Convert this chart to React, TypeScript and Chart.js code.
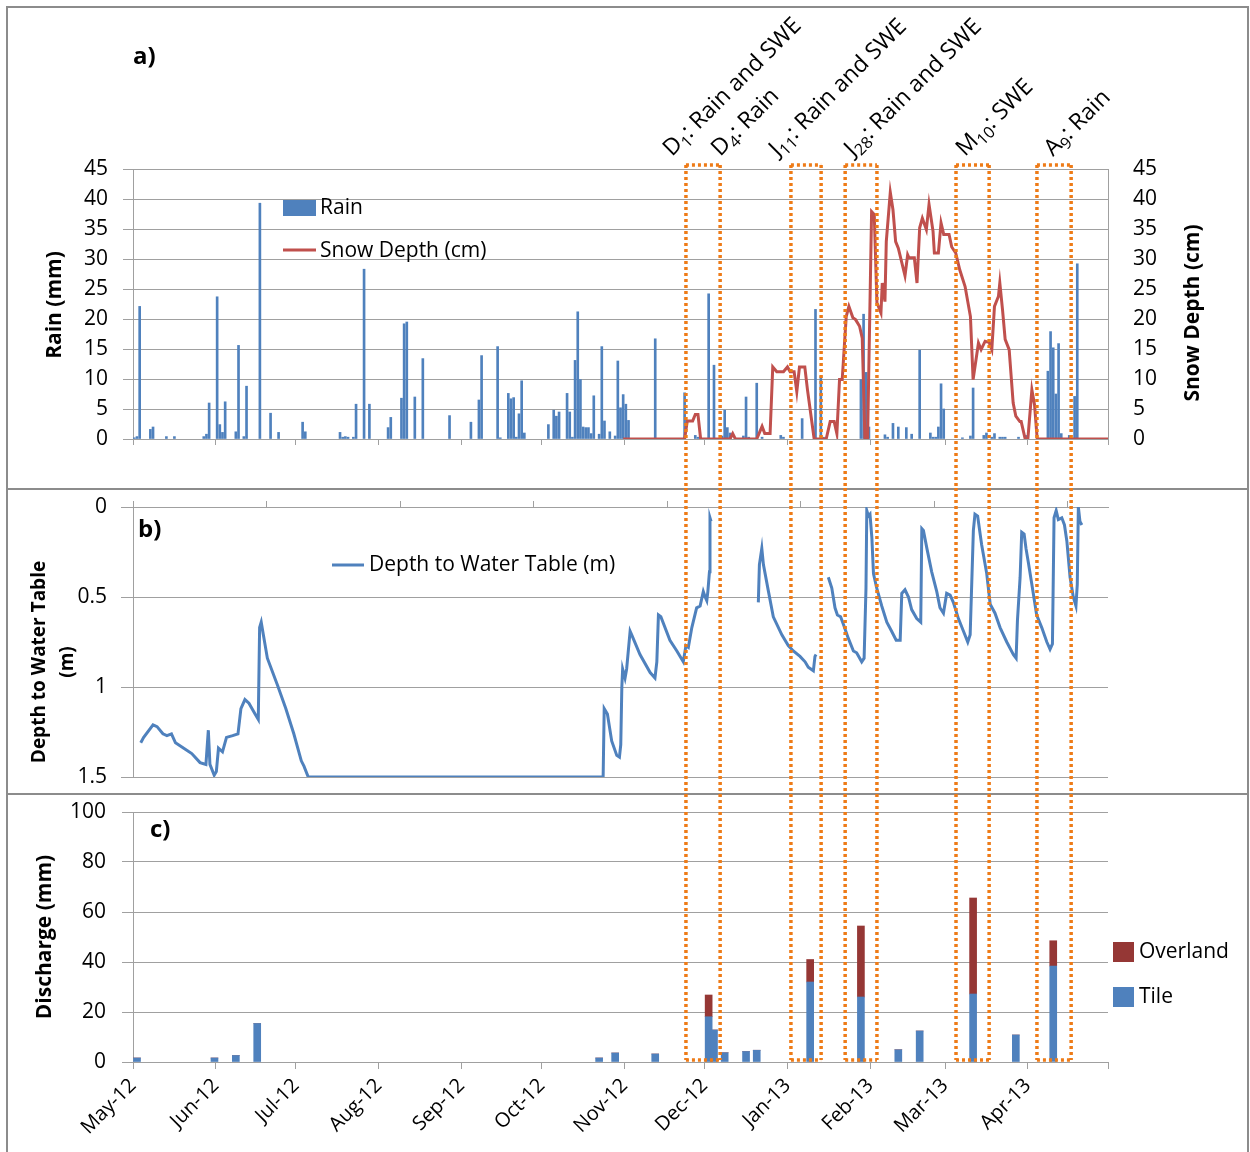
import React, { useEffect, useRef } from 'react';
import { Chart, registerables } from 'chart.js';
Chart.register(...registerables);

const FONT = "'Open Sans', sans-serif";
const BLUE = '#4F81BD';
const RED = '#C0504D';
const DARKRED = '#953735';
const ORANGE = '#EE7B17';
const GRID = '#a0a0a0';

// Days since 1 May 2012
const monthTickDays = [0, 31, 61, 92, 123, 153, 184, 214, 245, 276, 304, 335, 365];
const monthLabels = ['May-12', 'Jun-12', 'Jul-12', 'Aug-12', 'Sep-12', 'Oct-12', 'Nov-12', 'Dec-12', 'Jan-13', 'Feb-13', 'Mar-13', 'Apr-13', ''];
const wtTickDays = [0, 50, 100, 150, 200, 250, 300, 350];

// a) daily rain (mm)
const rainDays = [0,1,2,6,7,12,15,26,27,28,31,32,33,34,38,39,41,42,47,51,54,63,64,77,78,79,80,82,83,86,88,95,96,100,101,102,105,108,118,126,129,130,136,137,140,141,142,143,144,145,146,155,157,158,159,162,163,164,165,166,167,168,169,170,171,172,174,175,176,178,180,181,182,183,184,185,195,206,210,211,215,217,220,221,222,223,228,229,230,233,235,242,243,250,255,257,258,272,273,274,275,281,282,284,286,289,291,294,298,299,300,301,302,303,310,313,314,318,319,321,322,324,325,326,331,334,342,343,344,345,346,347,350,352,353];
const rainMm = [0.2,0.4,22.1,1.6,2.0,0.4,0.4,0.4,0.8,6.0,23.7,2.4,1.1,6.2,1.2,15.6,0.4,8.8,39.3,4.3,1.1,2.8,1.2,1.1,0.3,0.4,0.3,0.3,5.8,28.3,5.8,1.9,3.6,6.8,19.2,19.5,7.0,13.4,3.9,2.8,6.5,13.9,15.4,0.2,7.6,6.7,6.9,0.3,4.2,9.7,1.0,2.4,4.8,3.8,4.5,7.6,4.5,0.3,13.1,21.2,9.9,2.0,1.9,1.9,0.9,7.2,0.8,15.4,3.0,1.2,0.5,13.0,5.2,7.4,5.8,3.1,16.7,7.7,0.6,0.3,24.2,12.3,0.5,4.8,1.9,1.0,0.5,7.0,0.3,9.3,0.3,0.6,0.3,3.4,21.6,10.4,0.3,9.9,20.8,11.1,2.0,0.7,0.3,2.6,2.0,1.9,0.8,14.8,1.0,0.3,0.3,2.0,9.2,5.0,0.2,0.5,8.5,0.6,1.0,0.3,0.9,0.3,0.3,0.3,0.3,0.6,11.3,17.9,15.2,7.5,15.9,0.9,0.6,7.1,29.2];

// a) snow depth (cm)
const snowDays = [183.5,206.5,207.5,209.5,210.5,211.5,212.5,223.5,224.5,225.5,233.5,235.5,236.5,238.5,239.5,241,243.5,245,246,247.5,248.5,249.5,251.5,252.5,255,259.5,261,262.5,263.5,264.5,265.5,267,268,269.5,270.5,272,273,274,275,276.5,277.5,278.5,280,280.5,281.5,282,283.5,284.5,285.5,286.5,289,290,290.5,292.5,293.5,294.5,295.5,297,298,299.5,300,301.5,302.5,303.5,305.5,306.5,308,309.5,311.5,313.5,314.5,316.5,317.5,319,320.5,321.5,322.5,324,324.5,325.5,326.5,328,329.5,330.5,332,332.5,334,335,336.5,337.5,338.5,365];
const snowCm = [0,0,3.0,3.0,4.1,4.1,0,0,0.9,0,0,2.1,0.9,0.9,12.0,11.2,11.2,12.0,11.2,11.2,7.9,12.0,12.0,8.2,0,0,2.9,2.9,0.9,9.9,9.9,20.4,22.1,20.2,19.9,18.8,16.8,0,0,37.9,37.4,22.7,21.0,26.0,22.9,32.9,41.1,38.2,32.9,31.8,27.2,30.7,30.2,30.2,26.0,35.2,36.8,34.9,39.1,34.6,31.0,31.0,36.0,34.1,34.1,32.0,31.0,28.2,25.4,20.4,9.9,16.0,14.9,16.3,16.1,14.9,22.1,23.8,26.0,21.6,16.6,14.9,6.0,3.8,2.9,2.9,0,0,8.2,5.7,0,0];

// b) depth to water table (m); null = gap in record
const wtDays = [2.9,4.0,7.5,9.0,11.2,12.7,14.4,15.9,19.0,22.0,25.1,27.3,28.2,28.8,30.4,31.2,32.0,33.5,35.0,37.3,39.3,40.4,41.9,43.4,45.7,46.9,47.4,48.0,48.8,50.3,54.1,57.2,60.2,63.0,64.0,65.6,
  176.0,176.4,177.6,179.2,181.1,182.1,182.6,183.0,183.3,184.2,184.8,186.1,186.7,189.8,193.6,195.4,196.1,196.7,197.6,201.0,203.6,206.0,207.0,207.9,209.2,211.0,212.3,213.5,214.2,214.8,215.2,215.8,216.0,216.4,
  225,
  234.1,234.5,235.4,236.0,237.9,239.7,242.9,245.3,247.2,249.7,251.6,252.8,254.7,255.3,255.7,
  258,
  260.3,261.6,262.8,263.7,264.9,265.9,267.8,269.7,270.9,272.8,273.7,274.4,274.7,275.3,275.9,276.6,277.2,278.4,280.3,282.2,284.0,285.7,287.2,287.8,289.0,290.3,291.5,293.4,294.9,295.3,295.9,297.2,299.0,300.9,302.1,303.4,304.6,305.9,307.1,309.0,310.9,312.5,313.4,314.6,315.2,316.2,317.7,319.6,320.9,322.7,324.6,327.1,329.6,330.6,331.1,332.1,332.7,333.6,334.3,335.2,336.5,338.3,340.2,342.1,343.3,344.2,344.8,345.6,346.4,347.7,348.7,349.6,350.8,352.0,353.0,353.5,353.9,354.5,355.2];
const wtDepth = [1.31,1.28,1.21,1.22,1.26,1.27,1.26,1.31,1.34,1.37,1.42,1.43,1.24,1.43,1.49,1.47,1.34,1.36,1.28,1.27,1.26,1.12,1.07,1.09,1.15,1.18,0.67,0.64,0.71,0.84,0.99,1.12,1.26,1.41,1.44,1.50,
  1.50,1.12,1.15,1.30,1.38,1.39,1.32,1.00,0.90,0.95,0.90,0.69,0.71,0.82,0.92,0.95,0.86,0.60,0.61,0.74,0.80,0.86,0.77,0.78,0.67,0.56,0.55,0.47,0.50,0.52,0.47,0.36,0.06,0.08,
  null,
  0.53,0.32,0.23,0.32,0.47,0.61,0.71,0.77,0.80,0.83,0.86,0.89,0.91,0.83,0.82,
  null,
  0.39,0.45,0.56,0.60,0.61,0.65,0.73,0.80,0.81,0.86,0.84,0.45,0.02,0.05,0.04,0.17,0.37,0.45,0.55,0.64,0.69,0.74,0.74,0.48,0.46,0.50,0.57,0.62,0.64,0.12,0.13,0.23,0.36,0.47,0.56,0.59,0.48,0.49,0.53,0.62,0.69,0.75,0.71,0.13,0.04,0.05,0.21,0.37,0.54,0.59,0.67,0.75,0.82,0.84,0.63,0.39,0.14,0.15,0.23,0.31,0.43,0.60,0.67,0.75,0.79,0.76,0.06,0.02,0.07,0.06,0.10,0.19,0.39,0.50,0.55,0.43,0.00,0.08,0.10];

// c) discharge (mm)
const dischargeDays = [1,30,38,46,174,180,195,215,217,221,229,233,253,272,286,294,314,330,344];
const tileMm = [1.6,1.6,2.6,15.4,1.6,3.6,3.2,18.1,12.8,3.7,4.2,4.7,32.0,26.0,4.9,12.4,27.2,10.8,38.4];
const overlandMm = [0,0,0,0,0,0,0,8.7,0,0,0,0,9.0,28.4,0,0,38.4,0,10.1];

// Event windows (days) and labels
const eventStartDays = [207.0, 246.3, 266.6, 308.1, 338.4];
const eventEndDays = [219.8, 257.6, 278.5, 320.5, 351.2];
const eventLabelMain = ['D', 'D', 'J', 'J', 'M', 'A'];
const eventLabelSub = ['1', '4', '11', '28', '10', '9'];
const eventLabelRest = [': Rain and SWE', ': Rain', ': Rain and SWE', ': Rain and SWE', ': SWE', ': Rain'];
const eventLabelDays = [201.8, 219.8, 241.5, 269.6, 311.5, 344.4];

Chart.defaults.font.family = FONT;
Chart.defaults.color = '#000';

function drawEventBoxes(ctx: CanvasRenderingContext2D, xs: any, top: number, bottom: number, drawTop: boolean, drawBottom: boolean) {
  ctx.save();
  ctx.strokeStyle = ORANGE;
  ctx.lineWidth = 3.5;
  ctx.setLineDash([3, 3]);
  eventStartDays.forEach((s, i) => {
    const x1 = xs.getPixelForValue(s);
    const x2 = xs.getPixelForValue(eventEndDays[i]);
    ctx.beginPath();
    ctx.moveTo(x1, top); ctx.lineTo(x1, bottom);
    ctx.moveTo(x2, top); ctx.lineTo(x2, bottom);
    if (drawTop) { ctx.moveTo(x1, top); ctx.lineTo(x2, top); }
    if (drawBottom) { ctx.moveTo(x1, bottom); ctx.lineTo(x2, bottom); }
    ctx.stroke();
  });
  ctx.restore();
}

function text(ctx: CanvasRenderingContext2D, s: string, x: number, y: number, font: string, align: CanvasTextAlign = 'left') {
  ctx.save();
  ctx.font = font;
  ctx.fillStyle = '#000';
  ctx.textAlign = align;
  ctx.textBaseline = 'middle';
  ctx.fillText(s, x, y);
  ctx.restore();
}

function vText(ctx: CanvasRenderingContext2D, s: string, x: number, y: number, font: string) {
  ctx.save();
  ctx.translate(x, y);
  ctx.rotate(-Math.PI / 2);
  ctx.font = font;
  ctx.fillStyle = '#000';
  ctx.textAlign = 'center';
  ctx.textBaseline = 'middle';
  ctx.fillText(s, 0, 0);
  ctx.restore();
}

const fixWidth = (w: number) => (s: any) => { s.width = w; s.paddingTop = 0; s.paddingBottom = 0; };
const fixHeight = (h: number) => (s: any) => { s.height = h; s.paddingLeft = 0; s.paddingRight = 0; };
const setTicks = (vals: number[]) => (s: any) => { s.ticks = vals.map((v) => ({ value: v })); };

function configA(): any {
  const plugin = {
    id: 'decorA',
    afterDatasetsDraw(chart: any) {
      drawEventBoxes(chart.ctx, chart.scales.x, chart.chartArea.top - 4, chart.height, true, false);
    },
    afterDraw(chart: any) {
      const ctx: CanvasRenderingContext2D = chart.ctx;
      const xs = chart.scales.x;
      const top = chart.chartArea.top;
      text(ctx, 'a)', 133, 57, `bold 24px ${FONT}`);
      // legend
      ctx.save();
      ctx.fillStyle = BLUE;
      ctx.fillRect(283, 200, 33, 16);
      ctx.strokeStyle = RED;
      ctx.lineWidth = 3;
      ctx.beginPath(); ctx.moveTo(283, 250); ctx.lineTo(316, 250); ctx.stroke();
      ctx.restore();
      text(ctx, 'Rain', 320, 208, `21px ${FONT}`);
      text(ctx, 'Snow Depth (cm)', 320, 251, `21px ${FONT}`);
      vText(ctx, 'Rain (mm)', 55, 305, `bold 21px ${FONT}`);
      vText(ctx, 'Snow Depth (cm)', 1193, 313, `bold 21px ${FONT}`);
      // event annotations
      eventLabelDays.forEach((d, i) => {
        const x = xs.getPixelForValue(d);
        const y = top - 12;
        ctx.save();
        ctx.translate(x, y);
        ctx.rotate(-Math.PI / 4);
        ctx.fillStyle = '#000';
        ctx.textBaseline = 'alphabetic';
        ctx.textAlign = 'left';
        ctx.font = `23px ${FONT}`;
        ctx.fillText(eventLabelMain[i], 0, 0);
        let w = ctx.measureText(eventLabelMain[i]).width;
        ctx.font = `16px ${FONT}`;
        ctx.fillText(eventLabelSub[i], w, 5);
        w += ctx.measureText(eventLabelSub[i]).width;
        ctx.font = `23px ${FONT}`;
        ctx.fillText(eventLabelRest[i], w, 0);
        ctx.restore();
      });
    },
  };
  return {
    type: 'bar',
    data: {
      datasets: [
        {
          type: 'line',
          label: 'Snow Depth (cm)',
          data: snowDays.map((d, i) => ({ x: d, y: snowCm[i] })),
          borderColor: RED,
          borderWidth: 3,
          pointRadius: 0,
          yAxisID: 'y2',
          order: 1,
        },
        {
          type: 'bar',
          label: 'Rain',
          data: rainDays.map((d, i) => ({ x: d + 0.5, y: rainMm[i] })),
          backgroundColor: BLUE,
          barThickness: 2,
          yAxisID: 'y',
          order: 2,
        },
      ],
    },
    options: {
      animation: false,
      responsive: false,
      events: [],
      layout: { padding: { top: 169, left: 0, right: 0, bottom: 0 } },
      plugins: { legend: { display: false }, tooltip: { enabled: false } },
      scales: {
        x: {
          type: 'linear', min: 0, max: 365, offset: false, position: 'bottom',
          afterBuildTicks: setTicks(monthTickDays),
          ticks: { display: false },
          grid: { drawOnChartArea: false, tickLength: 6, color: GRID, offset: false },
          border: { color: GRID },
          afterFit: fixHeight(49),
        },
        y: {
          position: 'left', min: 0, max: 45,
          ticks: { stepSize: 5, padding: 15, font: { size: 21 }, color: '#000' },
          grid: { color: GRID, tickLength: 10 },
          border: { color: GRID },
          afterFit: fixWidth(133),
        },
        y2: {
          position: 'right', min: 0, max: 45,
          ticks: { stepSize: 5, padding: 25, font: { size: 21 }, color: '#000' },
          grid: { display: false, drawTicks: false },
          border: { color: GRID },
          afterFit: fixWidth(142),
        },
      },
    },
    plugins: [plugin],
  };
}

function configB(): any {
  const plugin = {
    id: 'decorB',
    afterDatasetsDraw(chart: any) {
      drawEventBoxes(chart.ctx, chart.scales.x, 0, chart.height, false, false);
    },
    afterDraw(chart: any) {
      const ctx: CanvasRenderingContext2D = chart.ctx;
      text(ctx, 'b)', 138, 42, `bold 24px ${FONT}`);
      ctx.save();
      ctx.strokeStyle = BLUE;
      ctx.lineWidth = 3;
      ctx.beginPath(); ctx.moveTo(332, 77); ctx.lineTo(364, 77); ctx.stroke();
      ctx.restore();
      text(ctx, 'Depth to Water Table (m)', 369, 77, `21px ${FONT}`);
      vText(ctx, 'Depth to Water Table', 40, 174, `bold 19px ${FONT}`);
      vText(ctx, '(m)', 68, 174, `bold 19px ${FONT}`);
    },
  };
  return {
    type: 'line',
    data: {
      datasets: [
        {
          label: 'Depth to Water Table (m)',
          data: wtDays.map((d, i) => ({ x: d, y: wtDepth[i] })),
          borderColor: BLUE,
          borderWidth: 3,
          pointRadius: 0,
          spanGaps: false,
        },
      ],
    },
    options: {
      animation: false,
      responsive: false,
      events: [],
      layout: { padding: { top: 0, left: 0, right: 142, bottom: 17 } },
      plugins: { legend: { display: false }, tooltip: { enabled: false } },
      scales: {
        x: {
          type: 'linear', min: 0, max: 365, position: 'top',
          afterBuildTicks: setTicks(wtTickDays),
          ticks: { display: false },
          grid: { drawOnChartArea: false, tickLength: 6, color: GRID },
          border: { color: GRID },
          afterFit: fixHeight(19),
        },
        y: {
          position: 'left', min: 0, max: 1.5, reverse: true,
          ticks: { stepSize: 0.5, padding: 14, font: { size: 21 }, color: '#000', callback: (v: number) => String(v) },
          grid: { color: GRID, tickLength: 12 },
          border: { color: GRID },
          afterFit: fixWidth(133),
        },
      },
    },
    plugins: [plugin],
  };
}

function configC(): any {
  const plugin = {
    id: 'decorC',
    afterDatasetsDraw(chart: any) {
      drawEventBoxes(chart.ctx, chart.scales.x, 0, chart.chartArea.bottom - 2, false, true);
    },
    afterDraw(chart: any) {
      const ctx: CanvasRenderingContext2D = chart.ctx;
      text(ctx, 'c)', 150, 36, `bold 24px ${FONT}`);
      ctx.save();
      ctx.fillStyle = DARKRED;
      ctx.fillRect(1113, 148, 21, 20);
      ctx.fillStyle = BLUE;
      ctx.fillRect(1113, 193, 21, 20);
      ctx.restore();
      text(ctx, 'Overland', 1139, 158, `21px ${FONT}`);
      text(ctx, 'Tile', 1139, 203, `21px ${FONT}`);
      vText(ctx, 'Discharge (mm)', 45, 143, `bold 21px ${FONT}`);
    },
  };
  return {
    type: 'bar',
    data: {
      datasets: [
        {
          label: 'Tile',
          data: dischargeDays.map((d, i) => ({ x: d + 0.5, y: tileMm[i] })),
          backgroundColor: BLUE,
          barThickness: 7,
          stack: 'q',
        },
        {
          label: 'Overland',
          data: dischargeDays.map((d, i) => ({ x: d + 0.5, y: overlandMm[i] })),
          backgroundColor: DARKRED,
          barThickness: 7,
          stack: 'q',
        },
      ],
    },
    options: {
      animation: false,
      responsive: false,
      events: [],
      layout: { padding: { top: 18, left: 0, right: 142, bottom: 0 } },
      plugins: { legend: { display: false }, tooltip: { enabled: false } },
      scales: {
        x: {
          type: 'linear', min: 0, max: 365, offset: false, stacked: true, position: 'bottom',
          afterBuildTicks: setTicks(monthTickDays),
          ticks: {
            minRotation: 45, maxRotation: 45, padding: 5, autoSkip: false,
            font: { size: 20 }, color: '#000',
            callback: (v: number) => monthLabels[monthTickDays.indexOf(v)] ?? '',
          },
          grid: { drawOnChartArea: false, tickLength: 7, color: GRID, offset: false },
          border: { color: GRID },
          afterFit: fixHeight(90),
        },
        y: {
          position: 'left', min: 0, max: 100, stacked: true,
          ticks: { stepSize: 20, padding: 16, font: { size: 21 }, color: '#000' },
          grid: { color: GRID, tickLength: 11 },
          border: { color: GRID },
          afterFit: fixWidth(133),
        },
      },
    },
    plugins: [plugin],
  };
}

export default function App() {
  const refA = useRef<HTMLCanvasElement>(null);
  const refB = useRef<HTMLCanvasElement>(null);
  const refC = useRef<HTMLCanvasElement>(null);

  useEffect(() => {
    const charts = [
      new Chart(refA.current as HTMLCanvasElement, configA()),
      new Chart(refB.current as HTMLCanvasElement, configB()),
      new Chart(refC.current as HTMLCanvasElement, configC()),
    ];
    return () => charts.forEach((c) => c.destroy());
  }, []);

  const frame = (top: number, height: number): React.CSSProperties => ({
    position: 'absolute', left: 6, top, width: 1243, height, border: '2px solid #8c8c8c', boxSizing: 'border-box',
  });

  return (
    <div style={{ position: 'absolute', left: 0, top: 0, width: 1250, height: 1152, background: '#fff', overflow: 'hidden' }}>
      <div style={frame(6, 484)} />
      <div style={frame(488, 307)} />
      <div style={frame(793, 365)} />
      <canvas ref={refA} width={1250} height={488} style={{ position: 'absolute', left: 0, top: 0 }} />
      <canvas ref={refB} width={1250} height={306} style={{ position: 'absolute', left: 0, top: 488 }} />
      <canvas ref={refC} width={1250} height={358} style={{ position: 'absolute', left: 0, top: 794 }} />
    </div>
  );
}
